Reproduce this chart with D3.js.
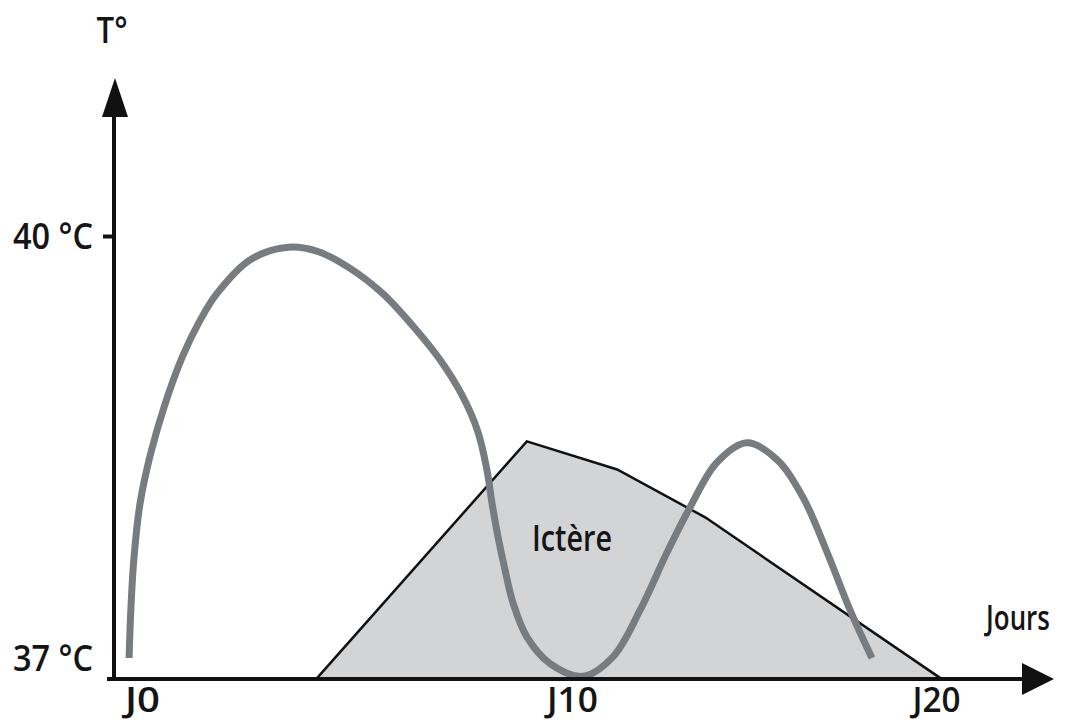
<html>
<head>
<meta charset="utf-8">
<script src="https://d3js.org/d3.v7.min.js"></script>
<style>
body { margin: 0; background: #fff; }
text { font-family: "Open Sans", "Noto Sans", sans-serif; fill: #151515; font-weight: 600; }
</style>
</head>
<body>
<svg id="chart" width="1066" height="722"></svg>
<script>

// temperature curve (day, °C)
var days  = [-0.30, -0.26, -0.19, -0.05, 0.19, 0.53, 0.95, 1.35, 1.74, 2.51, 3.40, 4.09, 4.84, 5.60, 6.30, 6.93,
             7.44, 7.81, 8.02, 8.14, 8.28, 8.44, 8.63, 8.95, 9.49, 10.30, 11.13, 11.87, 12.61, 13.24, 13.98,
             14.81, 15.63, 16.35, 17.01, 17.64, 18.24];
var temps = [37.00, 37.34, 37.70, 38.09, 38.44, 38.80, 39.15, 39.40, 39.59, 39.83, 39.92, 39.89, 39.77, 39.59, 39.36, 39.12,
             38.87, 38.61, 38.34, 38.10, 37.86, 37.63, 37.39, 37.15, 36.96, 36.87, 37.01, 37.34, 37.75, 38.07, 38.39,
             38.53, 38.41, 38.14, 37.75, 37.34, 37.00];

// jaundice area
var icterDays   = [4.05, 8.95, 11.24, 13.66, 20.16];
var icterLevels = [36.85, 38.54, 38.34, 38.00, 36.85];
var icterLabel  = "Ictère";

// axes
var dayTicks   = [0, 10, 20];
var dayLabels  = ["J0", "J10", "J20"];
var tempTicks  = [37, 40];
var tempLabels = ["37 °C", "40 °C"];
var xTitle = "Jours";
var yTitle = "T°";

var svg = d3.select("#chart");

var x = d3.scaleLinear().domain([0, 10, 20]).range([142, 572, 936]);
var y = d3.scaleLinear().domain([37, 40]).range([658, 236]);

var axisX = 114, axisY = y(36.85);

// squeeze a label to a given width
function fit(sel, w) {
  sel.attr("textLength", w).attr("lengthAdjust", "spacingAndGlyphs");
}

// ictère polygon
var poly = d3.range(icterDays.length).map(function(i){ return [icterDays[i], icterLevels[i]]; });
svg.append("path")
  .attr("d", d3.line().x(function(d){ return x(d[0]); }).y(function(d){ return y(d[1]); })(poly) + "Z")
  .attr("fill", "#d3d4d6")
  .attr("stroke", "#111")
  .attr("stroke-width", 2.5)
  .attr("stroke-linejoin", "miter");

svg.append("text")
  .attr("x", x(10)).attr("y", y(37.85))
  .attr("text-anchor", "middle")
  .attr("dy", "0.36em")
  .attr("font-size", 36)
  .text(icterLabel)
  .call(fit, 80);

// temperature curve
var pts = d3.range(days.length).map(function(i){ return [days[i], temps[i]]; });
svg.append("path")
  .datum(pts)
  .attr("fill", "none")
  .attr("stroke", "#777c81")
  .attr("stroke-width", 7)
  .attr("stroke-linecap", "butt")
  .attr("d", d3.line().curve(d3.curveCatmullRom.alpha(0.5))
    .x(function(d){ return x(d[0]); })
    .y(function(d){ return y(d[1]); }));

// y axis
var gy = svg.append("g")
  .attr("transform", "translate(" + axisX + ",0)")
  .call(d3.axisLeft(y).tickValues(tempTicks).tickSize(11).tickPadding(10)
    .tickFormat(function(d, i){ return tempLabels[i]; }));
gy.select(".domain").remove();
gy.selectAll(".tick line").attr("stroke", "#111").attr("stroke-width", 4)
  .filter(function(d){ return d === 37; }).remove();
gy.selectAll(".tick text").attr("font-size", 36).attr("font-family", null).attr("fill", "#151515")
  .attr("dy", "0.36em").each(function(){ d3.select(this).call(fit, 80); });

// x axis
var gx = svg.append("g")
  .attr("transform", "translate(0," + axisY + ")")
  .call(d3.axisBottom(x).tickValues(dayTicks).tickSize(0).tickPadding(8)
    .tickFormat(function(d, i){ return dayLabels[i]; }));
gx.select(".domain").remove();
var xw = [35, 51, 48];
gx.selectAll(".tick text").attr("font-size", 35).attr("font-family", null).attr("fill", "#151515")
  .each(function(d, i){ d3.select(this).call(fit, xw[i]); });

// axis lines with arrows
svg.append("line")
  .attr("x1", axisX).attr("y1", axisY + 2).attr("x2", axisX).attr("y2", 112)
  .attr("stroke", "#111").attr("stroke-width", 4);
svg.append("path")
  .attr("d", "M" + (axisX - 12) + ",117L" + (axisX + 1) + ",78L" + (axisX + 14) + ",117Z")
  .attr("fill", "#111");

svg.append("line")
  .attr("x1", 107).attr("y1", axisY).attr("x2", 1026).attr("y2", axisY)
  .attr("stroke", "#111").attr("stroke-width", 4);
svg.append("path")
  .attr("d", "M1022," + (axisY - 16) + "L1054," + axisY + "L1022," + (axisY + 16) + "Z")
  .attr("fill", "#111");

// axis titles
svg.append("text")
  .attr("x", 112).attr("y", 43)
  .attr("text-anchor", "middle")
  .attr("font-size", 36)
  .text(yTitle)
  .call(fit, 31);

svg.append("text")
  .attr("transform", "translate(1018,630) scale(0.74,1)")
  .attr("text-anchor", "middle")
  .attr("font-size", 35)
  .text(xTitle);

</script>
</body>
</html>
